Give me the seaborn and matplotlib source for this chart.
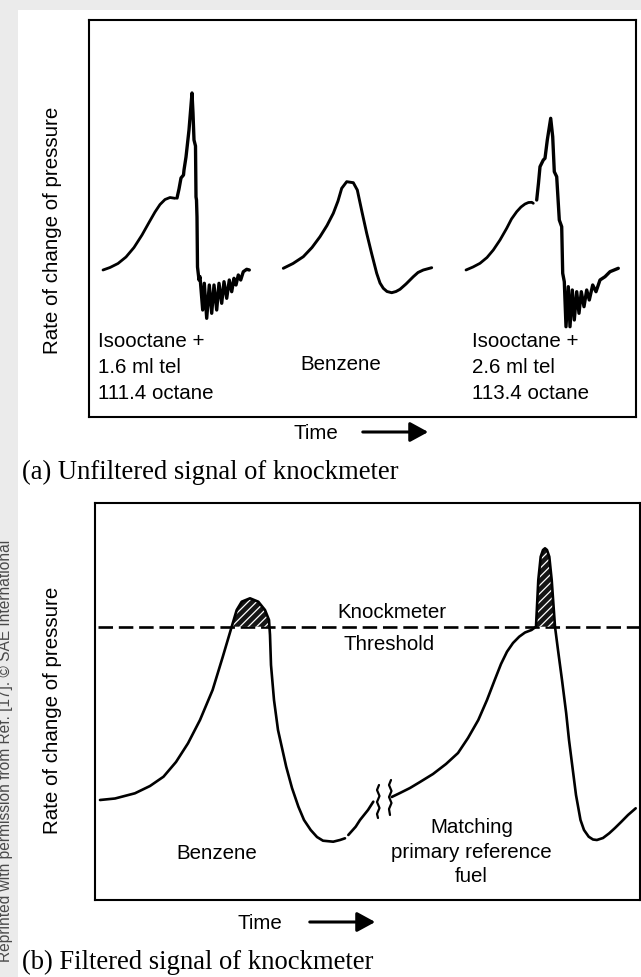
import numpy as np
import matplotlib
matplotlib.use("Agg")
import matplotlib.pyplot as plt
from matplotlib.patches import Rectangle, FancyArrowPatch
import seaborn as sns

# ------------------------------------------------------------------
# Data (arbitrary units:
# time = distance from the left frame, rate = height above the bottom frame)
# ------------------------------------------------------------------
# Panel (a): unfiltered knockmeter signal
iso16_pre_t = [14, 21, 29, 37, 45, 53, 60, 66, 71, 76, 81, 86]
iso16_pre_r = [147, 149.5, 153.5, 160, 169.5, 182, 194.5, 205, 212.5, 217.5, 219.5, 218.7]

iso16_knock_t = [88, 90, 92, 94.5, 95, 97, 100, 103, 104, 105, 106.5, 107, 107.5, 108, 108.5, 110,
                 111, 113.7, 115.3, 117.7, 120.3, 122.7, 125, 127.7, 130, 132.7, 135, 137.7,
                 140.3, 142.7, 145, 147, 149.3, 151.7, 154.3, 157.7, 160.3]
iso16_knock_r = [219, 228, 239, 242, 247, 260, 287, 324, 304, 277, 271, 220, 217, 200, 150, 137,
                 140.3, 107, 133.7, 98.7, 132, 103.7, 132, 107, 133.7, 113.7, 135.3, 118.7,
                 137, 125.3, 138.7, 132, 142, 137, 145.3, 147.7, 147]

benzene_a_t = [194.3, 204, 214.3, 223, 231, 238, 244.3, 249, 252.7, 257.7, 264.3, 268.3, 273,
               277.7, 282.5, 287.7, 291, 294.3, 298, 302.7, 307, 311, 317, 324.3, 329, 334.3, 342.7]
benzene_a_r = [148.7, 153.5, 160.3, 169.5, 180.3, 191.5, 203.7, 216, 228.7, 235.3, 234.3, 227, 205,
               183.7, 164, 143.7, 134, 128.7, 125.5, 124.3, 125.5, 127.7, 133, 140.3, 144.5, 147, 149.3]

iso26_pre_t = [377, 384, 391, 398, 404.3, 411, 417.7, 422.5, 427.7, 432, 436, 439.5, 442.7, 444.3]
iso26_pre_r = [147, 150, 153.7, 159.5, 167, 177, 188.7, 198, 205.3, 210, 213, 214.5, 214.7, 213.7]

iso26_knock_t = [447.7, 449.5, 451, 454.3, 456, 458.3, 461.7, 463.7, 465.3, 467.7, 470.3, 472.7,
                 473.7, 475.3, 477, 479.3, 481, 483.3, 485.3, 487.7, 490, 492.3, 495, 497.7,
                 500.3, 503.7, 507, 511, 516, 521, 529.3]
iso26_knock_r = [217, 234, 250.3, 257, 258.7, 277, 298.7, 280.3, 245.3, 240.3, 197, 190.3,
                 143.7, 135.3, 90.3, 130.3, 90.3, 127, 97, 125.3, 103.7, 125.3, 110.3, 127,
                 117, 132, 125.3, 137, 140.3, 145.3, 148.7]

# Panel (b): filtered knockmeter signal
threshold = 273.3
threshold_start = 3

benzene_b_t = [5, 20, 39.9, 55, 68.5, 81, 93, 105, 117.6, 127.8, 136.7, 141.7, 146.7, 155,
               163.3, 170, 174, 175, 176, 179, 183, 191.2, 197, 203.4, 209, 215.7, 222, 228,
               238.2, 245, 250]
benzene_b_r = [100, 101.5, 106.7, 114, 123.3, 138, 156.7, 180, 210, 243.3, 273.3, 290, 298.3, 301.7,
               298.3, 290, 280, 265, 235, 200, 170, 133.3, 112, 93.3, 80, 70, 63, 59.3,
               58.3, 60, 61.7]

benzene_b2_t = [253.3, 260.7, 265, 273, 278.3]
benzene_b2_r = [65, 73.3, 80, 90, 98.3]

break_left_t = [284, 282, 284.5, 282, 284.5, 282, 283]
break_left_r = [115, 110, 104, 98, 92, 86, 82]
break_right_t = [296, 294, 296.5, 294, 296.5, 294, 295]
break_right_r = [120, 115, 109, 103, 97, 91, 85]

prf_t = [296.7, 305, 315, 325, 338, 351, 363, 373, 383.3, 392, 399.7, 406, 412, 418, 424.2,
         430, 436.5, 441, 443.3, 445.7, 448, 450, 452, 454.3, 456.7, 460, 463, 467, 471.2,
         474, 477.4, 481, 485.5, 489, 493.7, 498, 501.9, 508, 514.2, 520, 526.4, 533, 540.7]
prf_r = [103, 107, 112, 118, 126, 136, 147, 162, 180, 200, 220, 236, 248.3, 257, 263.3,
         267.5, 270, 273.3, 320, 343.3, 350, 351.7, 350, 343.3, 320, 273.3, 250, 220, 186.7,
         160, 133.3, 105, 80, 70, 63.3, 60.5, 60, 62, 66.7, 72, 78.3, 85, 91.7]

# Text
ylabel = "Rate of change of pressure"
labels_a = ["Isooctane +\n1.6 ml tel\n111.4 octane", "Benzene", "Isooctane +\n2.6 ml tel\n113.4 octane"]
labels_b = ["Knockmeter", "Threshold", "Benzene", "Matching\nprimary reference\nfuel"]
caption_a = "(a) Unfiltered signal of knockmeter"
caption_b = "(b) Filtered signal of knockmeter"
credit = "Reprinted with permission from Ref. [17]. \u00a9 SAE International"

# ------------------------------------------------------------------
sns.set_style("white")
plt.rcParams['font.family'] = ['Liberation Sans', 'DejaVu Sans']
plt.rcParams['hatch.linewidth'] = 0.9
plt.rcParams['hatch.color'] = 'white'

W, H = 641, 977
fig = plt.figure(figsize=(W / 100, H / 100), dpi=100, facecolor='#ebebeb')


def fx(x):
    return x / W


def fy(y):
    return 1 - y / H


fig.add_artist(Rectangle((fx(18), 0), 1, fy(10), transform=fig.transFigure,
                         facecolor='white', edgecolor='none', zorder=-10))

axA = fig.add_axes([fx(89), fy(417), (636 - 89) / W, (417 - 20) / H])
axB = fig.add_axes([fx(95), fy(900), (640 - 95) / W, (900 - 503) / H])

for ax, xmax in ((axA, 547), (axB, 545)):
    ax.set_xlim(0, xmax)
    ax.set_ylim(0, 397)
    ax.set_xticks([])
    ax.set_yticks([])
    ax.set_xlabel("")
    ax.set_ylabel("")
    ax.set_facecolor('white')
    for s in ax.spines.values():
        s.set_visible(True)
        s.set_color('black')
        s.set_linewidth(1.5)

line_kw = dict(sort=False, estimator=None, color='black', solid_joinstyle='round',
               solid_capstyle='round')

# Panel (a)
sns.lineplot(x=iso16_pre_t, y=iso16_pre_r, ax=axA, linewidth=2.0, **line_kw)
sns.lineplot(x=iso16_knock_t, y=iso16_knock_r, ax=axA, linewidth=2.4, **line_kw)
sns.lineplot(x=benzene_a_t, y=benzene_a_r, ax=axA, linewidth=2.1, **line_kw)
sns.lineplot(x=iso26_pre_t, y=iso26_pre_r, ax=axA, linewidth=2.0, **line_kw)
sns.lineplot(x=iso26_knock_t, y=iso26_knock_r, ax=axA, linewidth=2.4, **line_kw)

# Panel (b)
axB.axhline(threshold, xmin=threshold_start / 545, xmax=1, color='black', lw=1.9,
            ls=(0, (5.5, 2.2)), zorder=1)
for tt, rr in ((benzene_b_t, benzene_b_r), (prf_t, prf_r)):
    ta, ra = np.array(tt), np.array(rr)
    axB.fill_between(ta, ra, threshold, where=ra >= threshold, interpolate=True,
                     facecolor='#151515', edgecolor='white', hatch='////', linewidth=0, zorder=2)
sns.lineplot(x=benzene_b_t, y=benzene_b_r, ax=axB, linewidth=1.9, zorder=3, **line_kw)
sns.lineplot(x=benzene_b2_t, y=benzene_b2_r, ax=axB, linewidth=1.9, zorder=3, **line_kw)
sns.lineplot(x=prf_t, y=prf_r, ax=axB, linewidth=1.9, zorder=3, **line_kw)
sns.lineplot(x=break_left_t, y=break_left_r, ax=axB, linewidth=1.6, zorder=3, **line_kw)
sns.lineplot(x=break_right_t, y=break_right_r, ax=axB, linewidth=1.6, zorder=3, **line_kw)
for ax in (axA, axB):
    leg = ax.get_legend()
    if leg is not None:
        leg.remove()

# ------------------------------------------------------------------
# Text
FS = 14.8
SERIF = ['Liberation Serif', 'DejaVu Serif']
base = 7.4  # offset from visual centre to baseline (px)


def txt(x, y, s, ha='left', **kw):
    fig.text(fx(x), fy(y + base), s, ha=ha, va='baseline', fontsize=FS, color='black',
             linespacing=1.1, **kw)


def multiline(x, y0, s, ha='left', step=26):
    for i, line in enumerate(s.split("\n")):
        txt(x, y0 + i * step, line, ha=ha)


# y labels
for yc in (230.5, 710.5):
    fig.text(fx(51 + base), fy(yc), ylabel, rotation=90, rotation_mode='anchor',
             ha='center', va='baseline', fontsize=FS, color='black')

multiline(98, 340, labels_a[0])
txt(341, 363, labels_a[1], ha='center')
multiline(472, 340, labels_a[2])

txt(391.5, 611, labels_b[0], ha='center')
txt(389, 643, labels_b[1], ha='center')
txt(217, 852, labels_b[2], ha='center')
multiline(471.5, 826, labels_b[3], ha='center', step=24.5)

# Time arrows
for tx, ty, a0, a1 in ((294, 432, 360, 431), (237, 922, 307, 378)):
    txt(tx, ty, "Time")
    fig.add_artist(FancyArrowPatch((fx(a0), fy(ty)), (fx(a1), fy(ty)), transform=fig.transFigure,
                                   arrowstyle='-|>,head_length=0.55,head_width=0.3',
                                   mutation_scale=20, lw=2.2, color='black'))

# captions
fig.text(fx(22), fy(470 + 9), caption_a, ha='left', va='baseline', fontsize=19.2,
         family=SERIF, color='black')
fig.text(fx(22), fy(960 + 9), caption_b, ha='left', va='baseline', fontsize=19.2,
         family=SERIF, color='black')

# credit
fig.text(fx(10.5), fy(540), credit, rotation=90, rotation_mode='anchor', ha='right',
         va='baseline', fontsize=11.2, color='#4a4a4a')

fig.savefig("out.png", dpi=100, facecolor=fig.get_facecolor())
